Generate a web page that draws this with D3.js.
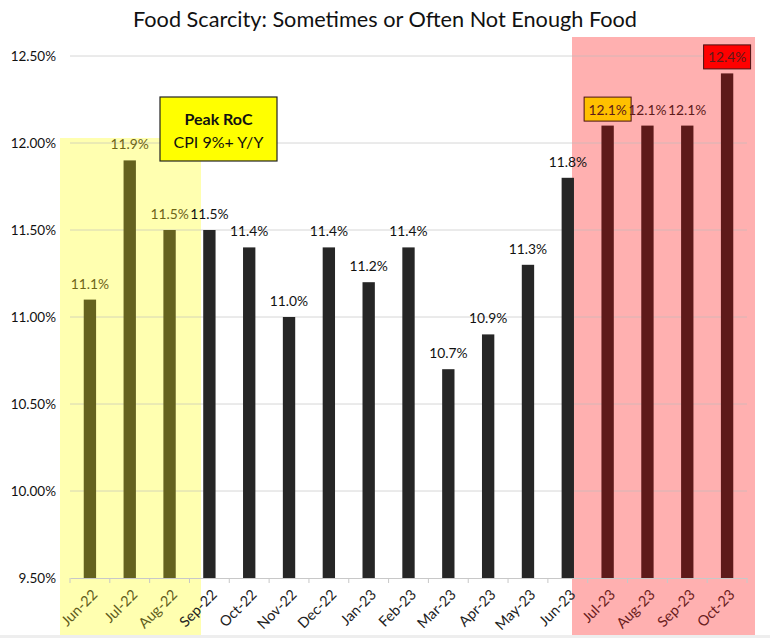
<!DOCTYPE html>
<html>
<head>
<meta charset="utf-8">
<script src="https://cdn.jsdelivr.net/npm/d3@7"></script>
<style>
  body { margin: 0; background: #fff; }
  text { font-family: Lato, "Open Sans", sans-serif; }
</style>
</head>
<body>
<svg id="chart" width="770" height="638"></svg>
<script>
const months = ["Jun-22", "Jul-22", "Aug-22", "Sep-22", "Oct-22", "Nov-22", "Dec-22", "Jan-23",
    "Feb-23", "Mar-23", "Apr-23", "May-23", "Jun-23", "Jul-23", "Aug-23", "Sep-23", "Oct-23"];
const scarcity = [11.1, 11.9, 11.5, 11.5, 11.4, 11.0, 11.4, 11.2, 11.4, 10.7, 10.9, 11.3, 11.8, 12.1, 12.1, 12.1, 12.4];
const yTicks = [9.5, 10.0, 10.5, 11.0, 11.5, 12.0, 12.5];
// which band each month falls in: "peak" (yellow), "plain", "high" (red)
const zone = ["peak", "peak", "peak", "plain", "plain", "plain", "plain", "plain",
    "plain", "plain", "plain", "plain", "plain", "high", "high", "high", "high"];
const boxed = { "Jul-23": "#ffc000", "Oct-23": "#ff0000" };

const svg = d3.select("#chart");
const W = 770, H = 638;

const x = d3.scaleBand().domain(months).range([70, 747]).paddingInner(0.69).paddingOuter(0.345);
const y = d3.scaleLinear().domain([9.5, 12.5]).range([578, 56]);

const BAR = { peak: "#65621f", plain: "#262626", high: "#5e1a1a" };
const LABEL = { peak: "#6e6418", plain: "#111", high: "#5e1a1a" };
const TICKLAB = { peak: "#5f5c1c", plain: "#222", high: "#6a1c1c" };

// shaded regions
svg.append("rect").attr("x", 60).attr("y", 138).attr("width", 141).attr("height", H - 138)
    .attr("fill", "#ffffb0");
svg.append("rect").attr("x", 572).attr("y", 37).attr("width", 183).attr("height", H - 37)
    .attr("fill", "#ffb0b0");
svg.append("rect").attr("x", 0).attr("y", 635).attr("width", W).attr("height", 3).attr("fill", "#eeeeee");

// title
svg.append("text")
    .attr("x", 385).attr("y", 27)
    .attr("text-anchor", "middle")
    .style("font-size", "21.7px")
    .attr("fill", "#111")
    .text("Food Scarcity: Sometimes or Often Not Enough Food");

// grid lines + y labels
const grid = svg.append("g").attr("id", "grid");
grid.selectAll("line")
    .data(yTicks.slice(1))
    .enter()
    .append("line")
    .attr("x1", 70).attr("x2", 747)
    .attr("y1", (d) => y(d)).attr("y2", (d) => y(d))
    .attr("stroke", "#bbb")
    .attr("stroke-opacity", 0.6)
    .attr("stroke-width", 1);

svg.append("g")
    .attr("transform", "translate(70,0)")
    .call(d3.axisLeft(y).tickValues(yTicks).tickSize(0).tickPadding(14)
        .tickFormat((d) => d3.format(".2f")(d) + "%"))
    .call((g) => g.select(".domain").remove())
    .selectAll("text")
    .style("font-size", "13.5px")
    .style("font-family", "Lato, sans-serif")
    .attr("fill", "#111");

// x axis
const xAxis = svg.append("g")
    .attr("transform", "translate(0,578)")
    .call(d3.axisBottom(x).tickSize(0).tickFormat(() => ""));
xAxis.select(".domain").attr("stroke", "#c8c8c8");
xAxis.selectAll(".edge")
    .data(d3.range(months.length + 1))
    .enter()
    .append("line")
    .attr("x1", (i) => 70 + i * x.step()).attr("x2", (i) => 70 + i * x.step())
    .attr("y1", 0).attr("y2", 5)
    .attr("stroke", "#c8c8c8");

svg.append("g").selectAll("text")
    .data(months)
    .enter()
    .append("text")
    .attr("transform", (d) => `translate(${x(d) + x.bandwidth() / 2 + 5},${592}) rotate(-45)`)
    .attr("text-anchor", "end")
    .attr("dy", "0.35em")
    .style("font-size", "14.5px")
    .attr("fill", (d, i) => TICKLAB[zone[i]])
    .text((d) => d);

// bars
svg.append("g").selectAll("rect")
    .data(scarcity)
    .enter()
    .append("rect")
    .attr("x", (d, i) => x(months[i]))
    .attr("y", (d) => y(d))
    .attr("width", x.bandwidth())
    .attr("height", (d) => y(9.5) - y(d))
    .attr("fill", (d, i) => BAR[zone[i]]);

// value labels
const labels = svg.append("g");
scarcity.forEach((v, i) => {
    const m = months[i];
    const cx = x(m) + x.bandwidth() / 2;
    const top = y(v);
    if (boxed[m]) {
        labels.append("rect")
            .attr("x", cx - 23.5).attr("y", top - 28.5)
            .attr("width", 47).attr("height", 24)
            .attr("fill", boxed[m])
            .attr("stroke", "#4a1212").attr("stroke-width", 1);
    }
    labels.append("text")
        .attr("x", cx).attr("y", top - 11)
        .attr("text-anchor", "middle")
        .style("font-size", "13.8px")
        .attr("fill", LABEL[zone[i]])
        .text(v.toFixed(1) + "%");
});

// annotation box
const note = svg.append("g").attr("transform", "translate(160,97)");
note.append("rect").attr("width", 117).attr("height", 64)
    .attr("fill", "#ffff00").attr("stroke", "#222").attr("stroke-width", 1.2);
note.append("text").attr("x", 58.5).attr("y", 28).attr("text-anchor", "middle")
    .style("font-size", "16px").style("font-weight", "bold").attr("fill", "#111").text("Peak RoC");
note.append("text").attr("x", 58.5).attr("y", 51).attr("text-anchor", "middle")
    .style("font-size", "16px").attr("fill", "#111").text("CPI 9%+ Y/Y");
</script>
</body>
</html>
